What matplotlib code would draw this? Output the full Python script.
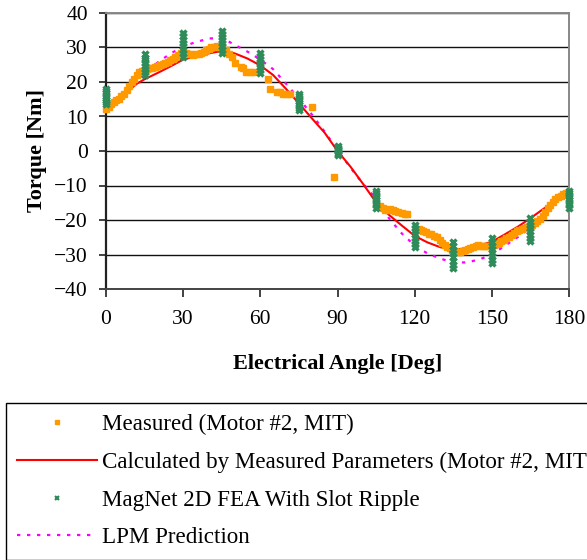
import matplotlib
matplotlib.use('Agg')
import matplotlib.pyplot as plt
from matplotlib.lines import Line2D

plt.rcParams['font.family'] = ['Liberation Serif', 'DejaVu Serif']

# ---------------- data ----------------
meas_angle = [0, 1, 2, 3, 4, 5, 6, 7, 8, 9, 10, 11, 12, 13, 14, 15, 16, 17, 18, 19,
              20, 21, 22, 23, 24, 25, 26, 27, 28, 29, 30, 31, 32, 33, 34, 35, 36, 37,
              38, 39, 40, 41, 42, 43, 44, 45, 46.5, 48, 48.8, 50.2, 52.5, 53.3, 54.3,
              56, 57.3, 62.9, 63.8, 66.5, 67.7, 69, 70.3, 71.5, 80, 88.5,
              106.5, 107.5, 108.5, 109.5, 110.5, 111.5, 112.5, 113.7, 115, 116.2, 117.2,
              121.5, 122.5, 123.4, 124.5, 125.5, 126.5, 127.5, 128.6, 129.7, 130.7,
              131.7, 132.7, 133.7, 134.7, 135.7, 136.7, 137.7, 138.7, 139.7, 140.7,
              141.7, 142.7, 143.7, 144.7, 145.7, 146.7, 147.7, 148.7, 149.7, 150.7,
              151.7, 152.7, 153.7, 154.7, 155.7, 156.7, 157.7, 158.7, 159.7, 160.7,
              161.7, 162.7, 163.7, 164.7, 165.7, 166.7, 167.7, 168.7, 169.7, 170.7,
              171.7, 172.7, 173.7, 174.7, 175.7, 176.7, 177.7, 178.7, 179.5]
meas_torque = [12.3, 12.8, 13.6, 14.2, 14.7, 15.2, 15.8, 16.6, 17.6, 18.8, 20.0, 21.0,
               22.0, 22.8, 23.3, 23.6, 23.8, 24.0, 24.2, 24.4, 24.6, 24.9, 25.2, 25.5,
               25.9, 26.3, 26.7, 27.2, 27.9, 28.4, 28.5, 28.4, 28.2, 28.0, 27.9, 28.0,
               28.2, 28.4, 28.7, 29.2, 29.7, 30.0, 30.2, 30.3, 30.2, 30.0, 29.2, 28.0,
               27.3, 25.5, 24.4, 24.0, 23.0, 22.9, 22.9, 20.9, 18.0, 17.2, 17.0, 16.6,
               16.4, 16.4, 12.8, -7.4,
               -15.9, -16.6, -17.2, -17.0, -16.9, -17.1, -17.5, -17.8, -18.0, -18.2, -18.3,
               -22.6, -22.8, -23.1, -23.6, -24.0, -24.2, -24.6, -25.0, -25.8, -26.6,
               -27.2, -27.7, -28.1, -28.6, -29.1, -29.4, -29.4, -29.0, -28.6, -28.3,
               -28.0, -27.7, -27.4, -27.3, -27.4, -27.5, -27.5, -27.5, -27.4, -27.3,
               -27.0, -26.7, -26.2, -25.7, -25.2, -24.8, -24.3, -23.7, -23.2, -22.8,
               -22.5, -22.2, -22.0, -21.7, -21.4, -21.0, -20.3, -19.7, -18.9, -17.8,
               -16.5, -15.6, -14.8, -14.0, -13.4, -13.0, -12.6, -12.3, -12.1]

calc_angle = [0, 5, 10, 12, 15, 20, 25, 30, 35, 40, 45, 50, 55, 60, 65, 70, 75, 80, 85,
              90, 95, 100, 105, 110, 115, 120, 125, 130, 135, 140, 145, 150, 155, 160,
              165, 170, 175, 180]
calc_torque = [12.5, 15.3, 18.3, 19.5, 20.8, 22.6, 24.5, 26.5, 27.5, 28.3, 29.0, 28.3,
               26.8, 24.8, 22.0, 18.0, 13.8, 9.5, 5.3, 0.0, -4.5, -9.6, -14.9, -18.5,
               -21.6, -24.6, -26.5, -27.9, -28.5, -28.3, -27.4, -26.3, -24.2, -22.0,
               -19.5, -16.8, -14.5, -12.5]

fea_angle = [0, 15, 30, 45, 60, 75, 90, 105, 120, 135, 150, 165, 180]
fea_torque = [
    [18.0, 17.4, 16.7, 16.0, 15.4, 14.7, 14.1, 13.5],
    [28.0, 27.1, 26.3, 25.4, 24.6, 23.7, 22.9, 22.0],
    [34.2, 33.2, 32.2, 31.2, 30.3, 29.3, 28.3, 27.3],
    [34.9, 34.0, 33.0, 32.1, 31.2, 30.3, 29.3, 28.4],
    [28.4, 27.6, 26.8, 25.9, 25.1, 24.3, 23.5, 22.7],
    [16.4, 15.8, 15.1, 14.5, 13.9, 13.3, 12.6, 12.0],
    [1.4, 1.0, 0.7, 0.3, -0.1, -0.5, -0.8, -1.2],
    [-11.6, -12.3, -13.0, -13.7, -14.3, -15.0, -15.7, -16.4],
    [-21.5, -22.4, -23.3, -24.2, -25.2, -26.1, -27.0, -27.9],
    [-26.5, -27.6, -28.6, -29.7, -30.8, -31.9, -32.9, -34.0],
    [-25.3, -26.3, -27.4, -28.4, -29.5, -30.5, -31.6, -32.6],
    [-19.5, -20.5, -21.4, -22.4, -23.3, -24.3, -25.2, -26.2],
    [-11.6, -12.3, -13.0, -13.7, -14.3, -15.0, -15.7, -16.4],
]

lpm_angle = [0, 5, 10, 15, 20, 25, 30, 35, 40, 45, 50, 55, 60, 65, 70, 75, 80, 85, 90,
             95, 100, 105, 110, 115, 120, 125, 130, 135, 140, 145, 150, 155, 160, 165,
             170, 175, 180]
lpm_torque = [11.1, 15.0, 19.0, 22.5, 25.6, 28.2, 30.3, 31.6, 32.6, 32.8, 30.8, 28.8,
              26.5, 23.7, 19.5, 15.2, 10.6, 5.6, 0.3, -4.8, -9.6, -13.8, -19.5, -23.9,
              -27.4, -29.7, -31.2, -32.3, -32.3, -31.5, -30.0, -27.5, -25.0, -22.3,
              -18.0, -14.8, -12.5]

x_ticks = [0, 30, 60, 90, 120, 150, 180]
y_ticks = [-40, -30, -20, -10, 0, 10, 20, 30, 40]

labels = ['Measured (Motor #2, MIT)',
          'Calculated by Measured Parameters (Motor #2, MIT)',
          'MagNet 2D FEA With Slot Ripple',
          'LPM Prediction']

ORANGE = '#ff9900'
RED = '#ff0000'
GREEN = '#2e8b5a'
MAGENTA = '#ff00ff'

# ---------------- figure ----------------
W, H = 587, 560
fig = plt.figure(figsize=(W / 100, H / 100), dpi=100)
ax = fig.add_axes([106 / W, 1 - 289 / H, 463 / W, 276 / H])

ax.plot(lpm_angle, lpm_torque, color=MAGENTA, lw=1.6, ls=(0, (1.5, 3)), zorder=2)
ax.plot(calc_angle, calc_torque, color=RED, lw=1.5, zorder=3)
ax.plot(meas_angle, meas_torque, ls='none', marker='s', ms=4.8, color=ORANGE,
        mec=ORANGE, zorder=4, clip_on=False)
for a, vals in zip(fea_angle, fea_torque):
    ax.plot([a] * len(vals), vals, ls='none', marker='x', ms=4.2, mew=2.4,
            color=GREEN, zorder=5, clip_on=False)

ax.set_xlim(0, 180)
ax.set_ylim(-40, 40)
ax.set_xticks(x_ticks)
ax.set_yticks(y_ticks)
ax.yaxis.grid(True, color='#111111', lw=1.0)
ax.set_axisbelow(True)

ax.tick_params(axis='both', direction='out', labelsize=15.5, width=1.2, color='#222222')
ax.tick_params(axis='y', length=5, pad=8)
ax.tick_params(axis='x', length=6, pad=9)

ax.spines['left'].set_color('#222222')
ax.spines['left'].set_linewidth(1.6)
ax.spines['bottom'].set_color('#444444')
ax.spines['bottom'].set_linewidth(1.4)
ax.spines['top'].set_color('#888888')
ax.spines['top'].set_linewidth(1.4)
ax.spines['right'].set_color('#888888')
ax.spines['right'].set_linewidth(1.4)

ax.set_xlabel('Electrical Angle [Deg]', fontsize=16, fontweight='bold', labelpad=18)
ax.set_ylabel('Torque [Nm]', fontsize=16, fontweight='bold', labelpad=5)

# ---------------- legend ----------------
handles = [
    Line2D([], [], ls='none', marker='s', ms=3.0, color=ORANGE),
    Line2D([], [], color=RED, lw=1.5),
    Line2D([], [], ls='none', marker='x', ms=3.0, mew=1.5, color=GREEN),
    Line2D([], [], color=MAGENTA, lw=1.6, ls=(0, (1.5, 3))),
]
leg = fig.legend(handles, labels, loc='upper left', bbox_to_anchor=(6 / W, 1 - 403 / H),
                 bbox_transform=fig.transFigure, borderaxespad=0, fontsize=16.6,
                 frameon=True, fancybox=False, edgecolor='black', framealpha=1,
                 handlelength=3.45, handletextpad=0.25, labelspacing=0.72,
                 borderpad=0.48, markerscale=1.0)
leg.get_frame().set_linewidth(1.0)

fig.savefig('out.png', dpi=100)
